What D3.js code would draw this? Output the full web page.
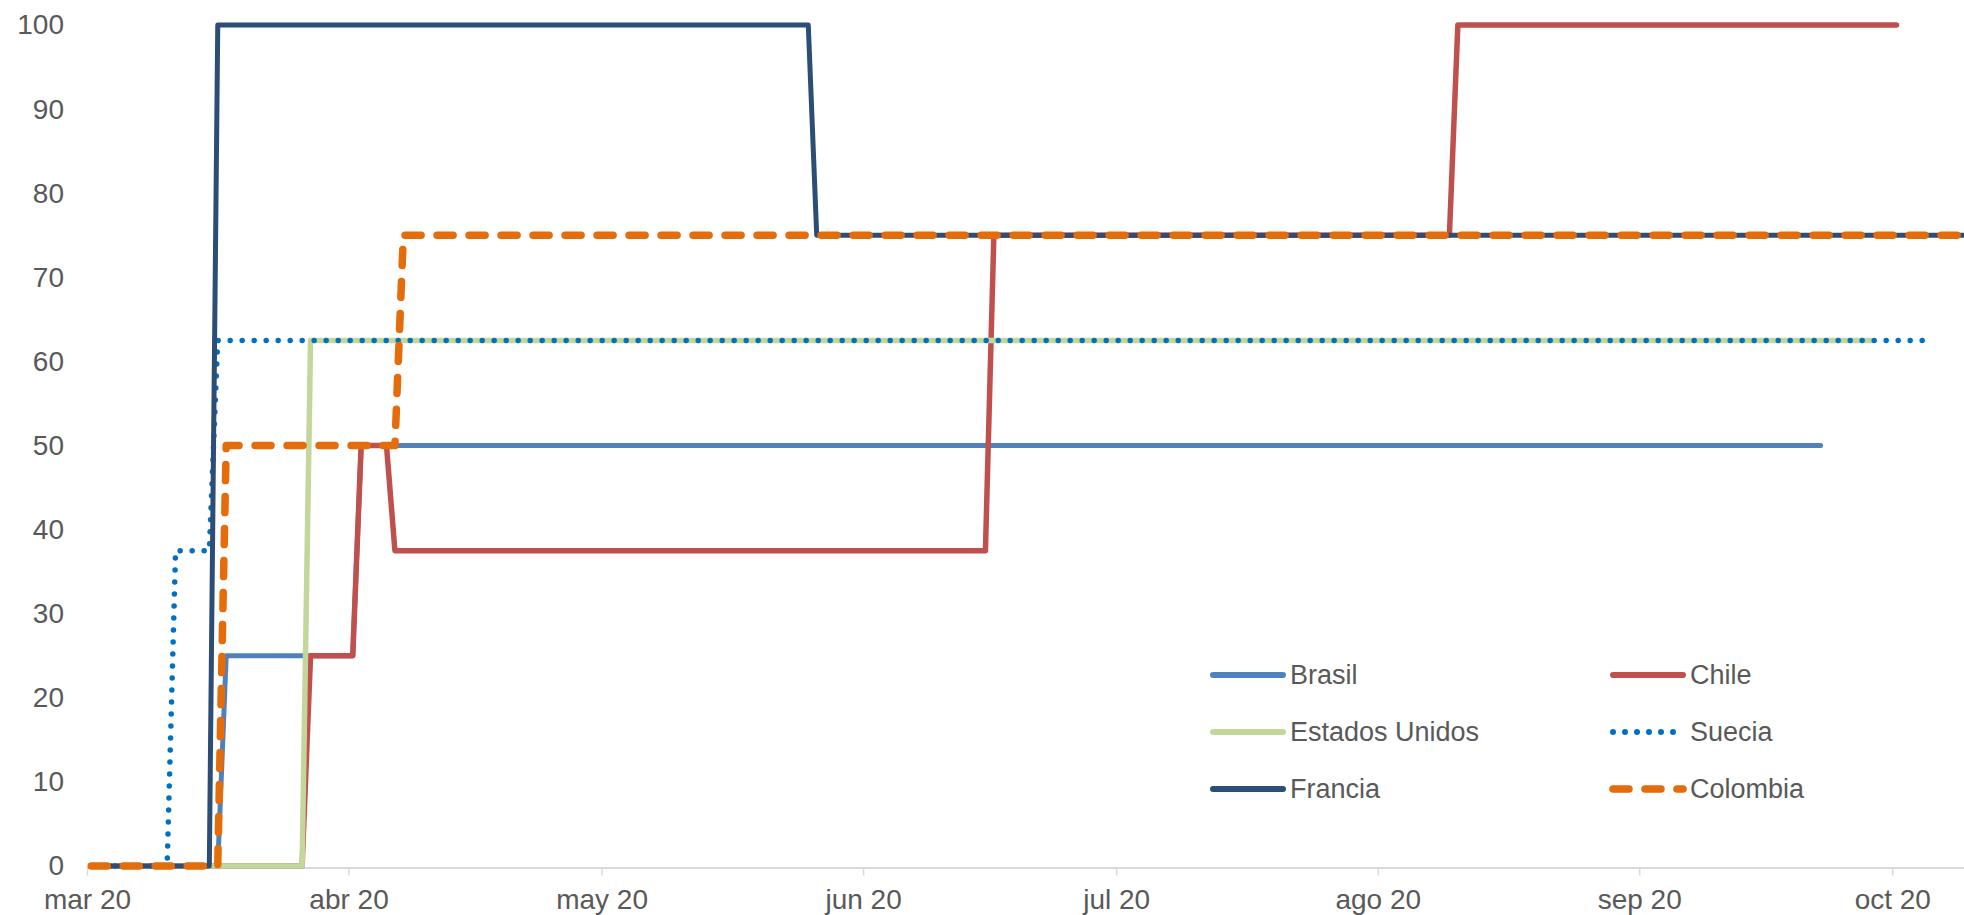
<!DOCTYPE html>
<html lang="es">
<head>
    <meta charset="UTF-8">
    <title>Índice de restricciones</title>
    <script src="https://d3js.org/d3.v7.min.js"></script>
    <style>
        body { margin: 0; background: #fff; }
        svg text { font-family: "Liberation Sans", Arial, sans-serif; fill: #595959; }
        .line { fill: none; stroke-linejoin: round; }
    </style>
</head>
<body>
    <svg width="1964" height="915"></svg>
    <script>
        // step points: [date, value]
        const brasil = [["2020-03-01", 0], ["2020-03-16", 0], ["2020-03-17", 25], ["2020-04-01", 25], ["2020-04-02", 50], ["2020-09-22", 50]];
        const chile = [["2020-03-01", 0], ["2020-03-26", 0], ["2020-03-27", 25], ["2020-04-01", 25], ["2020-04-02", 50], ["2020-04-05", 50], ["2020-04-06", 37.5], ["2020-06-15", 37.5], ["2020-06-16", 75], ["2020-08-09", 75], ["2020-08-10", 100], ["2020-10-01", 100]];
        const estadosUnidos = [["2020-03-01", 0], ["2020-03-26", 0], ["2020-03-27", 62.5], ["2020-09-28", 62.5]];
        const suecia = [["2020-03-01", 0], ["2020-03-10", 0], ["2020-03-11", 37.5], ["2020-03-15", 37.5], ["2020-03-16", 62.5], ["2020-10-05", 62.5]];
        const francia = [["2020-03-01", 0], ["2020-03-15", 0], ["2020-03-16", 100], ["2020-05-25", 100], ["2020-05-26", 75], ["2020-10-09", 75]];
        const colombia = [["2020-03-01", 0], ["2020-03-16", 0], ["2020-03-17", 50], ["2020-04-06", 50], ["2020-04-07", 75], ["2020-10-09", 75]];

        const tickDates = ["2020-03-01", "2020-04-01", "2020-05-01", "2020-06-01", "2020-07-01", "2020-08-01", "2020-09-01", "2020-10-01"];
        const tickLabels = ["mar 20", "abr 20", "may 20", "jun 20", "jul 20", "ago 20", "sep 20", "oct 20"];
        const yTicks = [0, 10, 20, 30, 40, 50, 60, 70, 80, 90, 100];

        const series = [
            {name: "Brasil", data: brasil, color: "#4F81BD", width: 5, dash: null},
            {name: "Chile", data: chile, color: "#C0504D", width: 5.5, dash: null},
            {name: "Estados Unidos", data: estadosUnidos, color: "#C3D69B", width: 5.5, dash: null},
            {name: "Suecia", data: suecia, color: "#0070C0", width: 5.5, dash: "0,12"},
            {name: "Francia", data: francia, color: "#2C4D75", width: 5, dash: null},
            {name: "Colombia", data: colombia, color: "#E46C0A", width: 7.5, dash: "16,16"}
        ];

        const parse = d3.timeParse("%Y-%m-%d");
        const plotLeft = 87, plotRight = 1964, plotTop = 25, plotBottom = 866;

        const x = d3.scaleTime()
            .domain([parse("2020-03-01"), d3.timeHour.offset(parse("2020-10-09"), 12)])
            .range([plotLeft, plotRight]);
        const y = d3.scaleLinear().domain([0, 100]).range([plotBottom, plotTop]);

        const svg = d3.select("svg");

        // x axis
        const xAxis = svg.append("g")
            .attr("transform", `translate(0,${plotBottom + 1.5})`)
            .call(d3.axisBottom(x)
                .tickValues(tickDates.map(parse))
                .tickFormat((d, i) => tickLabels[i])
                .tickSizeInner(8)
                .tickSizeOuter(0)
                .tickPadding(14));
        xAxis.select(".domain").attr("stroke", "#D9D9D9").attr("stroke-width", 2);
        xAxis.selectAll(".tick line").attr("stroke", "#D9D9D9").attr("stroke-width", 1.5);
        xAxis.selectAll(".tick text").attr("font-size", 28);
        xAxis.attr("font-family", null);

        // y axis
        const yAxis = svg.append("g")
            .attr("transform", `translate(${plotLeft},0)`)
            .call(d3.axisLeft(y).tickValues(yTicks).tickSize(0).tickPadding(23));
        yAxis.select(".domain").remove();
        yAxis.selectAll(".tick text").attr("font-size", 28);
        yAxis.attr("font-family", null);

        // points sit in the middle of each day slot
        const line = d3.line()
            .x(d => x(d3.timeHour.offset(parse(d[0]), 12)))
            .y(d => y(d[1]));

        svg.append("clipPath").attr("id", "plot")
            .append("rect").attr("x", plotLeft).attr("y", 0).attr("width", plotRight - plotLeft).attr("height", 915);

        series.forEach(s => {
            svg.append("path")
                .datum(s.data)
                .attr("class", "line")
                .attr("clip-path", "url(#plot)")
                .attr("d", line)
                .attr("stroke", s.color)
                .attr("stroke-width", s.width)
                .attr("stroke-linecap", "round")
                .attr("stroke-dasharray", s.dash);
        });

        // legend
        const legend = svg.append("g");
        series.forEach((s, i) => {
            const col = i % 2, row = Math.floor(i / 2);
            const lx = 1213 + col * 400, ly = 675 + row * 57;
            legend.append("line")
                .attr("x1", lx).attr("x2", lx + 70)
                .attr("y1", ly).attr("y2", ly)
                .attr("stroke", s.color)
                .attr("stroke-width", s.dash === "16,16" ? 7.5 : 6)
                .attr("stroke-linecap", "round")
                .attr("stroke-dasharray", s.dash);
            legend.append("text")
                .attr("x", lx + 77).attr("y", ly)
                .attr("dy", "0.35em")
                .attr("font-size", 27)
                .text(s.name);
        });
    </script>
</body>
</html>
